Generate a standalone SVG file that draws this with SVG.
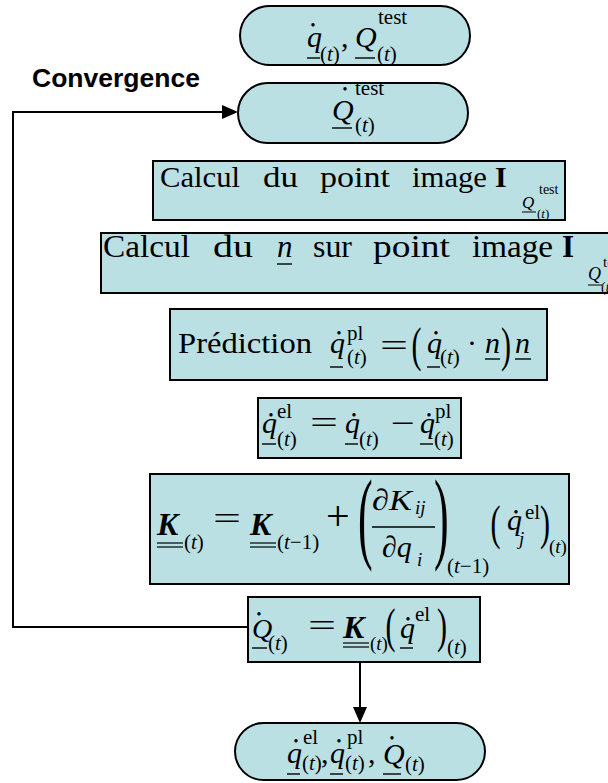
<svg xmlns="http://www.w3.org/2000/svg" width="608" height="783" viewBox="0 0 608 783">
<style>
.n{fill:#BAE0E4;stroke:#000;stroke-width:2}
.t{font-family:"Liberation Serif","Times New Roman",serif;font-size:30px;fill:#000}
.i{font-style:italic}
.b{font-weight:bold}
.s{font-size:21px}
.ss{font-size:19px}
.d{font-size:14px;text-anchor:middle}
.u{stroke:#000;stroke-width:1.4}
.c{fill:none;stroke:#000;stroke-width:2}
.lbl{font-family:"Liberation Sans",Arial,sans-serif;font-weight:bold;font-size:26.5px;fill:#000}
</style>
<defs>
<marker id="ah" markerUnits="userSpaceOnUse" markerWidth="17" markerHeight="14" refX="14" refY="7" orient="auto">
<path d="M0,0 L16,7 L0,14 z" fill="#000"/>
</marker>
</defs>

<g id="connectors">
<path class="c" d="M248,627 H13 V112 H236" marker-end="url(#ah)"/>
<path class="c" d="M360,662 V721" marker-end="url(#ah)"/>
<text class="lbl" x="32" y="87">Convergence</text>
</g>

<g id="n-start">
<rect class="n" x="240" y="6" width="230" height="59" rx="29.5"/>
<text class="t i" x="307" y="47">q</text>
<text class="t d" x="313" y="29.9">•</text>
<line class="u" x1="307" y1="58" x2="320" y2="58"/>
<text class="t s" x="320" y="61">(<tspan class="i">t</tspan>)</text>
<text class="t" x="341" y="47">,</text>
<text class="t i" x="355" y="47">Q</text>
<line class="u" x1="355" y1="58" x2="375" y2="58"/>
<text class="t s" x="378" y="24">test</text>
<text class="t s" x="377" y="61">(<tspan class="i">t</tspan>)</text>
</g>

<g id="n-qtest">
<rect class="n" x="238" y="83" width="230" height="60" rx="30"/>
<text class="t i" x="332" y="120">Q</text>
<text class="t d" x="345" y="93.9">•</text>
<line class="u" x1="332" y1="128" x2="352" y2="128"/>
<text class="t s" x="355" y="95">test</text>
<text class="t s" x="355" y="132">(<tspan class="i">t</tspan>)</text>
</g>

<g id="n-calc1">
<rect class="n" x="153" y="161" width="412" height="59"/>
<text class="t" x="160" y="187" style="font-size:29px" textLength="80" lengthAdjust="spacingAndGlyphs">Calcul</text>
<text class="t" x="263" y="187" style="font-size:29px" textLength="35" lengthAdjust="spacingAndGlyphs">du</text>
<text class="t" x="320" y="187" style="font-size:29px" textLength="70" lengthAdjust="spacingAndGlyphs">point</text>
<text class="t" x="412" y="187" style="font-size:29px" textLength="75" lengthAdjust="spacingAndGlyphs">image</text>
<text class="t b" x="495" y="187" style="font-size:30px">I</text>
<text class="t i" x="522" y="208" style="font-size:17px">Q</text>
<line class="u" x1="522" y1="212" x2="536" y2="212" style="stroke-width:1"/>
<text class="t" x="539" y="194" style="font-size:14px">test</text>
<text class="t" x="537" y="218" style="font-size:13px">(<tspan class="i">t</tspan>)</text>
</g>

<g id="n-calc2">
<rect class="n" x="101" y="233" width="520" height="60"/>
<text class="t" x="103" y="257" style="font-size:31px" textLength="87" lengthAdjust="spacingAndGlyphs">Calcul</text>
<text class="t" x="213" y="257" style="font-size:31px" textLength="40" lengthAdjust="spacingAndGlyphs">du</text>
<text class="t i" x="277" y="257" style="font-size:31px">n</text>
<line class="u" x1="277" y1="264" x2="292" y2="264"/>
<text class="t" x="313" y="257" style="font-size:31px" textLength="39" lengthAdjust="spacingAndGlyphs">sur</text>
<text class="t" x="373" y="257" style="font-size:31px" textLength="77" lengthAdjust="spacingAndGlyphs">point</text>
<text class="t" x="472" y="257" style="font-size:31px" textLength="81" lengthAdjust="spacingAndGlyphs">image</text>
<text class="t b" x="562" y="257" style="font-size:31px">I</text>
<text class="t i" x="588" y="280" style="font-size:18px">Q</text>
<line class="u" x1="588" y1="285" x2="602" y2="285" style="stroke-width:1"/>
<text class="t" x="603" y="267" style="font-size:15px">test</text>
<text class="t" x="601" y="292" style="font-size:14px">(<tspan class="i">t</tspan>)</text>
</g>

<g id="n-pred">
<rect class="n" x="170" y="309" width="377" height="71"/>
<text class="t" x="178" y="353" textLength="134" lengthAdjust="spacingAndGlyphs">Prédiction</text>
<text class="t i" x="330" y="353">q</text>
<text class="t d" x="339" y="337.9">•</text>
<line class="u" x1="330" y1="367" x2="343" y2="367"/>
<text class="t s" x="347" y="340">pl</text>
<text class="t s" x="347" y="364">(<tspan class="i">t</tspan>)</text>
<text class="t" x="380" y="356" textLength="28" lengthAdjust="spacingAndGlyphs" style="font-size:32px">=</text>
<text class="t" transform="translate(411.6,360.5) scale(1,1.65)">(</text>
<text class="t i" x="427" y="353">q</text>
<text class="t d" x="436" y="337.9">•</text>
<line class="u" x1="427" y1="367" x2="440" y2="367"/>
<text class="t s" x="440" y="364">(<tspan class="i">t</tspan>)</text>
<text class="t" x="472" y="353" text-anchor="middle">·</text>
<text class="t i" x="485" y="353">n</text>
<line class="u" x1="485" y1="359" x2="500" y2="359"/>
<text class="t" transform="translate(501,360.5) scale(1,1.65)">)</text>
<text class="t i" x="515" y="353">n</text>
<line class="u" x1="515" y1="359" x2="531" y2="359"/>
</g>

<g id="n-qel">
<rect class="n" x="258" y="398" width="203" height="60"/>
<text class="t i" x="262" y="433">q</text>
<text class="t d" x="271" y="419.9">•</text>
<line class="u" x1="262" y1="444" x2="276" y2="444"/>
<text class="t s" x="277" y="418">el</text>
<text class="t s" x="277" y="446">(<tspan class="i">t</tspan>)</text>
<text class="t" x="310" y="433" textLength="28" lengthAdjust="spacingAndGlyphs" style="font-size:32px">=</text>
<text class="t i" x="345" y="433">q</text>
<text class="t d" x="354" y="419.9">•</text>
<line class="u" x1="345" y1="444" x2="358" y2="444"/>
<text class="t s" x="359" y="446">(<tspan class="i">t</tspan>)</text>
<text class="t" x="391" y="433" textLength="24" lengthAdjust="spacingAndGlyphs">−</text>
<text class="t i" x="420" y="433">q</text>
<text class="t d" x="429" y="419.9">•</text>
<line class="u" x1="420" y1="444" x2="433" y2="444"/>
<text class="t s" x="435" y="418">pl</text>
<text class="t s" x="434" y="446">(<tspan class="i">t</tspan>)</text>
</g>

<g id="n-K">
<rect class="n" x="150" y="474" width="419" height="110"/>
<text class="t i b" x="157" y="535" style="font-size:32px">K</text>
<line class="u" x1="157" y1="543" x2="183" y2="543" style="stroke-width:1.2"/>
<line class="u" x1="157" y1="547" x2="183" y2="547" style="stroke-width:1.2"/>
<text class="t s" x="184" y="549">(<tspan class="i">t</tspan>)</text>
<text class="t" x="213" y="528.5" textLength="28" lengthAdjust="spacingAndGlyphs" style="font-size:32px">=</text>
<text class="t i b" x="250" y="535" style="font-size:32px">K</text>
<line class="u" x1="250" y1="543" x2="276" y2="543" style="stroke-width:1.2"/>
<line class="u" x1="250" y1="547" x2="276" y2="547" style="stroke-width:1.2"/>
<text class="t s" x="277" y="549">(<tspan class="i">t</tspan>−1)</text>
<text class="t" x="326" y="530" style="font-size:42px">+</text>
<text class="t" transform="translate(358,550.4) scale(1,2.3)" style="font-size:44px">(</text>
<text class="t i" x="372" y="510" textLength="40" lengthAdjust="spacingAndGlyphs">∂K</text>
<text class="t i" x="415" y="514" style="font-size:19px">ij</text>
<line class="u" x1="372" y1="527" x2="435" y2="527" style="stroke-width:1.5"/>
<text class="t i" x="382" y="557">∂q</text>
<text class="t i" x="417" y="566" style="font-size:19px">i</text>
<text class="t" transform="translate(434,550.4) scale(1,2.3)" style="font-size:44px">)</text>
<text class="t s" x="447" y="573">(<tspan class="i">t</tspan>−1)</text>
<text class="t" transform="translate(490.6,538.5) scale(1,1.65)">(</text>
<text class="t i" x="507" y="530">q</text>
<text class="t d" x="516" y="516.9">•</text>
<text class="t s" x="525" y="519">el</text>
<text class="t i" x="519" y="545" style="font-size:19px">j</text>
<text class="t" transform="translate(540,538.5) scale(1,1.65)">)</text>
<text class="t ss" x="549" y="553">(<tspan class="i">t</tspan>)</text>
</g>

<g id="n-Qdot">
<rect class="n" x="248" y="597" width="232" height="65"/>
<text class="t i" x="252" y="638" style="font-size:28px">Q</text>
<text class="t d" x="259" y="618.9">•</text>
<line class="u" x1="252" y1="648" x2="267" y2="648"/>
<text class="t s" x="268" y="650">(<tspan class="i">t</tspan>)</text>
<text class="t" x="308" y="636" textLength="28" lengthAdjust="spacingAndGlyphs" style="font-size:32px">=</text>
<text class="t i b" x="343" y="638" style="font-size:32px">K</text>
<line class="u" x1="343" y1="643" x2="369" y2="643" style="stroke-width:1.2"/>
<line class="u" x1="343" y1="647" x2="369" y2="647" style="stroke-width:1.2"/>
<text class="t ss" x="370" y="650">(<tspan class="i">t</tspan>)</text>
<text class="t" transform="translate(385.6,641.5) scale(1,1.65)">(</text>
<text class="t i" x="400" y="638">q</text>
<text class="t d" x="408" y="623.9">•</text>
<line class="u" x1="400" y1="648" x2="413" y2="648"/>
<text class="t s" x="415" y="621">el</text>
<text class="t" transform="translate(437,641.5) scale(1,1.65)">)</text>
<text class="t s" x="447" y="654">(<tspan class="i">t</tspan>)</text>
</g>

<g id="n-end">
<rect class="n" x="235" y="723" width="250" height="57" rx="28.5"/>
<text class="t i" x="287" y="763">q</text>
<text class="t d" x="296" y="745.9">•</text>
<line class="u" x1="287" y1="774" x2="300" y2="774"/>
<text class="t s" x="303" y="744">el</text>
<text class="t s" x="302" y="770">(<tspan class="i">t</tspan>)</text>
<text class="t" x="321" y="763">,</text>
<text class="t i" x="330" y="763">q</text>
<text class="t d" x="339" y="745.9">•</text>
<line class="u" x1="330" y1="774" x2="343" y2="774"/>
<text class="t s" x="347" y="744">pl</text>
<text class="t s" x="345" y="770">(<tspan class="i">t</tspan>)</text>
<text class="t" x="368" y="763">,</text>
<text class="t i" x="383" y="764">Q</text>
<text class="t d" x="392" y="742.9">•</text>
<line class="u" x1="383" y1="774" x2="401" y2="774"/>
<text class="t s" x="405" y="771">(<tspan class="i">t</tspan>)</text>
</g>
</svg>
